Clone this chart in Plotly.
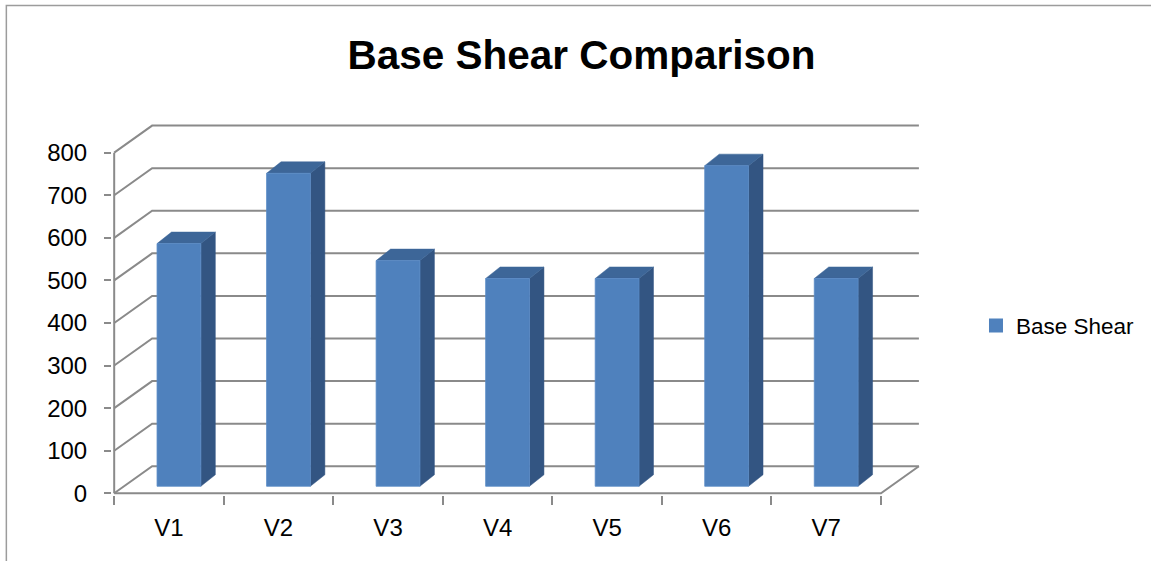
import plotly.graph_objects as go

# ---- data ----
categories = ["V1", "V2", "V3", "V4", "V5", "V6", "V7"]
base_shear = [570, 735, 530, 488, 488, 753, 488]
y_ticks = [0, 100, 200, 300, 400, 500, 600, 700, 800]
series_name = "Base Shear"
title_text = "Base Shear Comparison"

# ---- style / projection constants ----
W, H = 1151, 561
PX_X = 109.7          # pixels per category
PX_Y = 0.425          # pixels per value unit
X0_PX, Y0_PX = 114, 493   # pixel position of front-left floor corner
DX = 38 / PX_X        # depth offset of back wall (x, data units)
DY = 27 / PX_Y        # depth offset of back wall (y, data units)
BAR_DX0, BAR_DY0 = 10 / PX_X, 7 / PX_Y      # bar front plane offset
BAR_DX1, BAR_DY1 = 14.5 / PX_X, 11.5 / PX_Y  # bar depth
HALF_W = 0.2
GRID = "#8a8a8a"
FRONT, TOP, SIDE = "#4F81BD", "#3D6698", "#335582"
FONT = "Liberation Sans, Arial, sans-serif"

n = len(categories)
XR = [-0.02, n + DX + 0.01]
YR = [-4, 872]
plot_w = (XR[1] - XR[0]) * PX_X
plot_h = (YR[1] - YR[0]) * PX_Y
m_l = X0_PX + XR[0] * PX_X
m_b = H - (Y0_PX - YR[0] * PX_Y)
m_t = H - m_b - plot_h
m_r = W - m_l - plot_w

fig = go.Figure()

# walls: left-wall diagonals + back-wall gridlines
gx, gy = [], []
for v in y_ticks:
    gx += [0, DX, n + DX, None]
    gy += [v, v + DY, v + DY, None]
# front-left vertical edge
gx += [0, 0, None]
gy += [0, y_ticks[-1], None]
# floor front and right edge
gx += [0, n, n + DX, None]
gy += [0, 0, DY, None]
fig.add_trace(go.Scatter(x=gx, y=gy, mode="lines", line=dict(color=GRID, width=2),
                         hoverinfo="skip", showlegend=False))

# bars (oblique 3D)
fx, fy, tx, ty, sx, sy = [], [], [], [], [], []
for i, v in enumerate(base_shear):
    cx = i + 0.5 + BAR_DX0
    l, r = cx - HALF_W, cx + HALF_W
    b, t = BAR_DY0, v + BAR_DY0
    fx += [l, r, r, l, l, None]
    fy += [b, b, t, t, b, None]
    tx += [l, r, r + BAR_DX1, l + BAR_DX1, l, None]
    ty += [t, t, t + BAR_DY1, t + BAR_DY1, t, None]
    sx += [r, r + BAR_DX1, r + BAR_DX1, r, r, None]
    sy += [b, b + BAR_DY1, t + BAR_DY1, t, b, None]

fig.add_trace(go.Scatter(x=sx, y=sy, fill="toself", fillcolor=SIDE, mode="lines",
                         line=dict(color=SIDE, width=0.5), hoverinfo="skip", showlegend=False))
fig.add_trace(go.Scatter(x=tx, y=ty, fill="toself", fillcolor=TOP, mode="lines",
                         line=dict(color=TOP, width=0.5), hoverinfo="skip", showlegend=False))
fig.add_trace(go.Scatter(x=fx, y=fy, fill="toself", fillcolor=FRONT, mode="lines",
                         line=dict(color="#5b8cc6", width=0.8), hoverinfo="skip", showlegend=False))
# legend entry
fig.add_trace(go.Scatter(x=[None], y=[None], mode="markers", name=series_name,
                         marker=dict(symbol="square", size=14, color=FRONT)))

fig.update_layout(
    width=W, height=H,
    margin=dict(l=m_l, r=m_r, t=m_t, b=m_b, pad=0),
    paper_bgcolor="white", plot_bgcolor="white",
    font=dict(family=FONT, color="black"),
    title=dict(text="<b>" + title_text + "</b>", x=581.5 / W, xref="container", xanchor="center",
               y=1 - 55 / H, yref="container", yanchor="middle",
               font=dict(family=FONT, size=40.5, color="black")),
    xaxis=dict(range=XR, tickvals=[i + 0.5 for i in range(n)], ticktext=categories,
               ticks="", showgrid=False, zeroline=False, showline=False,
               tickfont=dict(size=24), ticklabelstandoff=16,
               minor=dict(tickvals=list(range(n + 1)), ticks="outside", ticklen=9,
                          tickwidth=2, tickcolor=GRID, showgrid=False)),
    yaxis=dict(range=YR, tickvals=y_ticks, ticks="outside", ticklen=7, tickwidth=2,
               tickcolor=GRID, showgrid=False, zeroline=False, showline=False,
               tickfont=dict(size=24), ticklabelstandoff=12),
    showlegend=True,
    legend=dict(x=(976 - m_l) / plot_w, xanchor="left", y=(H - m_b - 326) / plot_h, yanchor="middle",
                font=dict(size=22.5), bgcolor="rgba(0,0,0,0)", itemwidth=30),
    shapes=[dict(type="rect", xref="paper", yref="paper",
                 x0=(6 - m_l) / plot_w, x1=(W + 5 - m_l) / plot_w,
                 y0=(H - m_b - (H + 5)) / plot_h, y1=(H - m_b - 6) / plot_h,
                 line=dict(color="#9c9c9c", width=1.5), layer="below")],
)

fig.write_html("out.html", config={"displayModeBar": False},
               post_script="document.body.style.margin='0';document.body.style.overflow='hidden';")
